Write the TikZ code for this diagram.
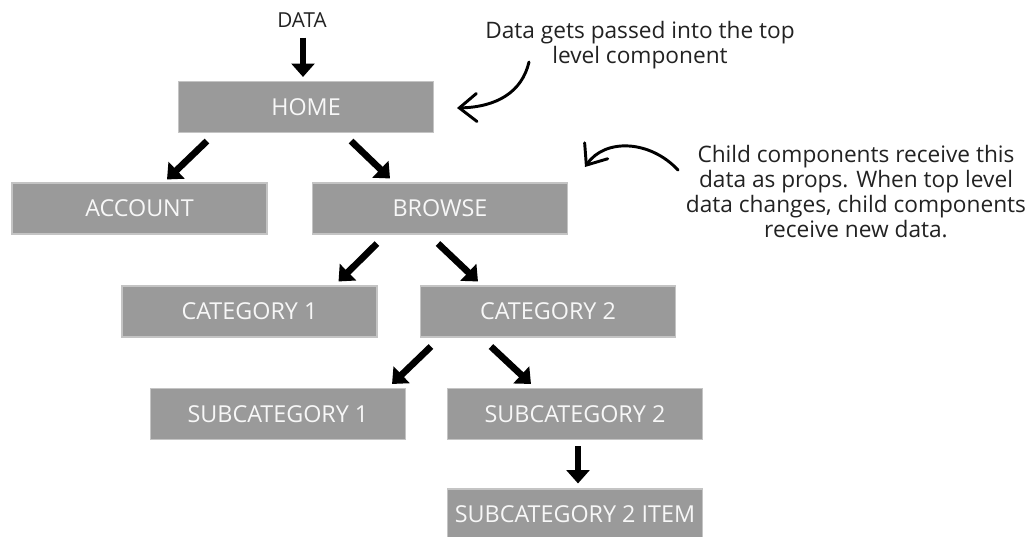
\documentclass[tikz,border=0pt]{standalone}
\usepackage{fontspec}
\setmainfont{Open Sans}
\usetikzlibrary{arrows.meta,calc}
\definecolor{boxfill}{HTML}{9A9A9A}
\definecolor{boxedge}{HTML}{C4C4C4}
\definecolor{boxtext}{HTML}{F7F7F7}
\definecolor{inktext}{HTML}{222222}
\tikzset{
  compbox/.style={draw=boxedge, line width=0.8pt, fill=boxfill, text=boxtext,
    minimum width=191.25pt, minimum height=38.25pt, inner sep=0pt,
    font=\fontsize{17.5}{20}\selectfont},
  bigarrow/.style={draw=black, line width=5pt, -{Triangle[length=10pt,width=17pt]}},
  curvearrow/.style={draw=black, line width=2.2pt, line cap=round,
    -{Straight Barb[length=13pt,width=21pt,line cap=round]}},
  note/.style={text=inktext, align=center, inner sep=0pt,
    font=\fontsize{17}{18.75}\selectfont}
}
\begin{document}
\begin{tikzpicture}[x=0.75pt,y=-0.75pt]
\useasboundingbox (0,0) rectangle (1030,536);
% boxes
\node[compbox] (home) at (306,107) {HOME};
\node[compbox] (account) at (139.5,208.5) {ACCOUNT};
\node[compbox] (browse) at (440,208.5) {BROWSE};
\node[compbox] (cat1) at (249.5,311.5) {CATEGORY 1};
\node[compbox] (cat2) at (548,311.5) {CATEGORY 2};
\node[compbox] (sub1) at (278,414) {SUBCATEGORY 1};
\node[compbox] (sub2) at (575,414) {SUBCATEGORY 2};
\node[compbox] (item) at (575,514.5) {SUBCATEGORY 2 ITEM};
% data label
\node[text=inktext, inner sep=0pt, font=\fontsize{15.5}{17}\selectfont] (data) at (302,20) {DATA};
% notes
\node[note] (note1) at (640,45.5) {Data gets passed into the top\\level component};
\node[note] (note2) at (856,192) {Child components receive this\\data as props. When top level\\data changes, child components\\receive new data.};
% straight arrows
\draw[bigarrow] ($(data.south)+(1,10)$) -- ($(home.north)+(-3,-4)$);
\draw[bigarrow] ($(home.south west)+(29,8)$) -- ($(account.north)+(27.5,-3)$);
\draw[bigarrow] ($(home.south east)+(-83,8)$) -- ($(browse.north)+(-50,-4)$);
\draw[bigarrow] ($(browse.south west)+(65,9)$) -- ($(cat1.north east)+(-39,-4)$);
\draw[bigarrow] ($(browse.south)+(-2,9)$) -- ($(cat2.north west)+(58,-4)$);
\draw[bigarrow] ($(cat2.south west)+(11,9)$) -- ($(sub1.north east)+(-14,-4)$);
\draw[bigarrow] ($(cat2.south west)+(71,9)$) -- ($(sub2.north west)+(84,-4)$);
\draw[bigarrow] ($(sub2.south)+(3,6)$) -- ($(item.north)+(3,-5)$);
% curved arrows
\coordinate (c1s) at (529,62);
\coordinate (c1e) at (457,108);
\draw[curvearrow] (c1s) .. controls (522,92) and (497,107) .. (c1e);
\coordinate (c2s) at (678,170);
\coordinate (c2e) at (585,167);
\draw[curvearrow] (c2s) .. controls (650,140) and (605,138) .. (c2e);
\end{tikzpicture}
\end{document}
